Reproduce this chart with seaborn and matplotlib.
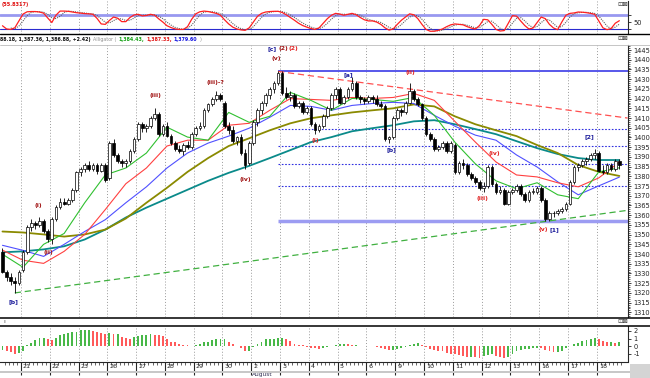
import numpy as np
import seaborn as sns
import matplotlib
matplotlib.use("Agg")
from matplotlib import pyplot as plt
from matplotlib.ticker import MultipleLocator, FixedLocator

# hourly bars, 7 per session, 5 bars of the previous session shown on the left
day_labels = ["21", "22", "23", "26", "27", "28", "29", "30", "2", "3", "4",
              "5", "6", "9", "10", "11", "12", "13", "16", "17", "18"]
bars_per_day = 7
bars_before = 5

opens = [1341, 1331, 1328, 1326, 1325, 1332, 1341, 1354, 1356, 1355, 1357, 1352, 1348, 1358, 1364, 1367, 1366, 1368, 1373, 1382,
         1384, 1386, 1384, 1386, 1383, 1386, 1379, 1397, 1391, 1388, 1387, 1388, 1393, 1399, 1407, 1405, 1406, 1410, 1412, 1402,
         1406, 1401, 1397, 1394, 1393, 1396, 1395, 1402, 1405, 1406, 1414, 1417, 1420, 1422, 1418, 1406, 1404, 1398, 1400, 1392,
         1387, 1397, 1408, 1414, 1418, 1422, 1425, 1428, 1433, 1423, 1421, 1422, 1416, 1418, 1413, 1415, 1407, 1404, 1406, 1411,
         1415, 1422, 1425, 1418, 1421, 1425, 1428, 1421, 1420, 1419, 1421, 1420, 1417, 1416, 1399, 1400, 1410, 1414, 1413, 1418,
         1424, 1420, 1417, 1410, 1402, 1399, 1394, 1395, 1397, 1393, 1396, 1382, 1387, 1386, 1381, 1379, 1377, 1374, 1375, 1385,
         1376, 1372, 1373, 1366, 1372, 1373, 1375, 1371, 1368, 1372, 1372, 1374, 1368, 1358, 1361, 1361, 1362, 1363, 1366, 1377,
         1385, 1386, 1388, 1389, 1391, 1392, 1383, 1382, 1386, 1384, 1388]
highs = [1343, 1332, 1330, 1328, 1332, 1342, 1355, 1358, 1357, 1359, 1358, 1353, 1359, 1365, 1369, 1369, 1369, 1374, 1383, 1385,
         1387, 1388, 1387, 1387, 1387, 1387, 1398, 1399, 1392, 1389, 1389, 1394, 1400, 1408, 1408, 1407, 1411, 1415, 1413, 1407,
         1408, 1402, 1398, 1396, 1397, 1398, 1403, 1406, 1408, 1415, 1418, 1421, 1424, 1423, 1419, 1408, 1406, 1401, 1402, 1394,
         1398, 1409, 1415, 1419, 1423, 1426, 1429, 1434, 1434, 1426, 1424, 1423, 1419, 1419, 1416, 1416, 1408, 1407, 1412, 1416,
         1423, 1426, 1426, 1422, 1426, 1431, 1429, 1422, 1421, 1422, 1422, 1422, 1419, 1417, 1401, 1411, 1415, 1415, 1419, 1428,
         1425, 1421, 1418, 1411, 1403, 1400, 1396, 1398, 1398, 1398, 1397, 1388, 1389, 1387, 1382, 1380, 1378, 1377, 1386, 1386,
         1377, 1375, 1374, 1373, 1374, 1376, 1376, 1372, 1373, 1374, 1375, 1375, 1369, 1362, 1362, 1363, 1364, 1367, 1378, 1386,
         1387, 1389, 1390, 1392, 1394, 1393, 1386, 1387, 1387, 1389, 1389]
lows = [1330, 1326, 1324, 1320, 1324, 1331, 1340, 1352, 1353, 1354, 1351, 1346, 1345, 1357, 1363, 1365, 1365, 1367, 1372, 1380,
        1382, 1383, 1383, 1381, 1382, 1377, 1378, 1390, 1387, 1385, 1385, 1387, 1392, 1398, 1403, 1403, 1405, 1409, 1401, 1401,
        1400, 1396, 1393, 1392, 1391, 1394, 1394, 1401, 1404, 1405, 1413, 1416, 1419, 1419, 1405, 1402, 1397, 1396, 1391, 1384,
        1386, 1396, 1406, 1412, 1416, 1420, 1423, 1427, 1422, 1420, 1419, 1415, 1415, 1412, 1412, 1406, 1402, 1403, 1405, 1410,
        1414, 1420, 1417, 1417, 1420, 1424, 1420, 1418, 1417, 1418, 1418, 1416, 1415, 1398, 1397, 1399, 1409, 1411, 1412, 1417,
        1419, 1416, 1409, 1401, 1398, 1393, 1393, 1394, 1392, 1392, 1381, 1381, 1384, 1380, 1378, 1376, 1373, 1372, 1374, 1375,
        1371, 1371, 1365, 1365, 1371, 1372, 1370, 1367, 1367, 1371, 1371, 1367, 1357, 1357, 1359, 1360, 1361, 1362, 1365, 1376,
        1383, 1385, 1386, 1388, 1389, 1382, 1381, 1381, 1383, 1383, 1384]
closes = [1331, 1328, 1326, 1325, 1331, 1341, 1354, 1356, 1355, 1357, 1352, 1348, 1358, 1364, 1367, 1366, 1368, 1373, 1382, 1384,
          1386, 1384, 1386, 1383, 1386, 1378, 1397, 1391, 1388, 1387, 1388, 1393, 1399, 1407, 1405, 1406, 1410, 1412, 1402, 1406,
          1401, 1397, 1394, 1393, 1396, 1395, 1402, 1405, 1406, 1414, 1417, 1420, 1422, 1420, 1406, 1404, 1398, 1400, 1392, 1386,
          1397, 1408, 1414, 1418, 1422, 1425, 1428, 1433, 1423, 1421, 1422, 1416, 1418, 1413, 1415, 1407, 1404, 1406, 1411, 1415,
          1422, 1425, 1418, 1421, 1425, 1428, 1421, 1420, 1419, 1421, 1420, 1417, 1416, 1399, 1400, 1410, 1414, 1413, 1418, 1424,
          1420, 1417, 1410, 1402, 1399, 1394, 1395, 1397, 1393, 1397, 1382, 1387, 1386, 1381, 1379, 1377, 1374, 1375, 1385, 1376,
          1372, 1373, 1366, 1372, 1373, 1375, 1371, 1368, 1372, 1372, 1374, 1368, 1358, 1361, 1361, 1362, 1363, 1366, 1377, 1385,
          1386, 1388, 1389, 1391, 1392, 1383, 1382, 1386, 1384, 1388, 1386]

# moving averages read every 5 bars
ma_bar = list(range(0, 151, 5))
ma_teal = [1340.9, 1341.4, 1342.4, 1344.0, 1347.5, 1352.6, 1358.8, 1363.9, 1368.5, 1373.1, 1377.7, 1381.8, 1385.4, 1389.4,
           1393.5, 1397.6, 1400.2, 1403.2, 1404.8, 1406.3, 1408.3, 1408.9, 1406.8, 1404.3, 1401.7, 1398.1, 1394.5, 1391.5,
           1389.4, 1388.4, 1388.4]
ma_olive = [1351.6, 1351.1, 1350.1, 1349.0, 1350.1, 1352.6, 1358.3, 1366.4, 1374.1, 1382.3, 1389.4, 1395.6, 1399.6, 1403.7,
            1407.3, 1409.9, 1411.4, 1412.9, 1414.0, 1415.0, 1417.0, 1416.0, 1410.9, 1406.8, 1403.7, 1400.7, 1396.1, 1392.0,
            1385.8, 1382.3, 1380.2]
jaw = [1344.5, 1341.9, 1338.8, 1345.0, 1351.6, 1357.7, 1366.4, 1374.6, 1384.3, 1392.0, 1397.1, 1400.7, 1404.8, 1410.4,
       1416.5, 1416.0, 1414.0, 1416.5, 1417.5, 1418.1, 1417.5, 1411.4, 1405.8, 1401.2, 1398.6, 1391.0, 1384.8, 1377.2,
       1370.5, 1375.1, 1379.6]
teeth = [1342.0, 1336.8, 1335.2, 1341.4, 1350.1, 1362.9, 1376.2, 1384.3, 1395.6, 1398.6, 1398.6, 1406.3, 1407.3, 1414.0,
         1420.0, 1419.6, 1419.1, 1420.6, 1420.1, 1420.6, 1422.7, 1419.1, 1408.3, 1397.6, 1387.4, 1380.7, 1379.7, 1376.7,
         1374.6, 1379.2, 1387.3]
lips = [1339.9, 1333.2, 1345.0, 1350.6, 1366.4, 1380.7, 1384.3, 1392.0, 1405.3, 1400.2, 1398.6, 1412.9, 1407.8, 1410.9,
        1423.2, 1419.1, 1414.0, 1420.1, 1419.6, 1418.6, 1420.6, 1411.4, 1397.6, 1386.4, 1377.7, 1373.6, 1376.7, 1370.5,
        1368.5, 1382.3, 1384.4]

# oscillator (top panel) and histogram (bottom panel)
osc = [34, 20, 18, 25, 55, 85, 95, 96, 96, 94, 89, 68, 48, 80, 98, 98, 97, 94, 91, 89, 87, 86, 84, 66, 42, 40, 57, 72, 67, 52,
       52, 70, 81, 84, 77, 79, 84, 80, 64, 50, 34, 26, 20, 18, 18, 30, 62, 86, 95, 98, 96, 92, 88, 80,
       60, 42, 28, 20, 16, 14, 25, 50, 75, 88, 94, 96, 97, 97, 92, 82, 70, 58, 45, 35, 28, 22, 18, 25, 45, 65,
       80, 88, 85, 80, 84, 88, 82, 70, 60, 55, 55, 50, 40, 25, 15, 20, 40, 58, 72, 86, 82, 65, 40, 18,
       10, 10, 14, 20, 30, 38, 42, 40, 38, 30, 24, 20, 35, 62, 60, 40, 18, 11, 13, 45, 78, 76, 55, 35, 20, 24,
       48, 72, 65, 40, 24, 17, 50, 80, 88, 90, 94, 93, 91, 88, 84, 55, 25, 17, 22, 45, 56]
osc_value = "(55.8317)"
hist = [-0.5, -0.6, -0.8, -1.0, -0.9, -0.6, 0.1, 0.4, 0.8, 1.1, 1.1, 0.9, 0.8, 1.1, 1.5, 1.6, 1.7, 1.8, 1.9, 2.1, 2.1, 2.1,
        2.0, 1.8, 1.7, 1.6, 1.7, 1.6, 1.6, 1.2, 1.1, 1.0, 1.2, 1.3, 1.4, 1.5, 1.6, 1.5, 1.4, 1.3, 0.9, 0.6, 0.5, 0.3, 0.2,
        0.1, 0.0, 0.1, 0.3, 0.5, 0.6, 0.8, 0.9,
        1.0, 1.0, 0.6, 0.3, 0.0, -0.3, -0.6, -0.6, -0.1, 0.3, 0.6, 0.9, 1.0, 1.0, 1.1, 1.1, 1.0, 0.7, 0.3, 0.2, 0.1, -0.1,
        -0.2, -0.3, -0.4, -0.3, -0.1, 0.0, 0.1, 0.3, 0.3, 0.25, 0.2, 0.2, 0.05, 0.0, -0.05, -0.05, -0.15, -0.3, -0.4, -0.5,
        -0.5, -0.35, -0.2, -0.1, 0.1, 0.25, 0.35, 0.2, -0.1, -0.35, -0.55, -0.65,
        -0.7, -0.85, -1.0, -1.1, -1.2, -1.3, -1.4, -1.4, -1.45, -1.5, -1.25, -1.2, -1.1, -1.3, -1.45, -1.5, -1.4, -1.05,
        -0.7, -0.5, -0.4, -0.4, -0.25, -0.25, -0.3, -0.45, -0.65, -0.8, -0.8, -0.65, -0.3, 0.05, 0.3, 0.4, 0.65, 0.85,
        1.0, 1.1, 1.0, 0.7, 0.5, 0.5, 0.4, 0.5]

# drawn studies: swing high/low, fib retracements, trend lines
swing_bar = 67
swing_high = 1434
swing_low = 1357
fib_levels = [1375.2, 1386.4, 1395.5, 1404.6]
red_trend = [(67, 1434), (152, 1410)]
green_trend = [(3, 1320), (152, 1362.5)]

# wave count labels: text, bar, price, colour
waves = [("[b]", 2.6, 1315.5, "#1a1a9a"), ("(i)", 8.6, 1365, "#a01010"), ("(ii)", 11.1, 1341, "#a01010"),
         ("(iii)", 37.1, 1421.6, "#a01010"), ("(iii)-?", 51.9, 1428.3, "#a01010"), ("(iv)", 59, 1378.2, "#a01010"),
         ("(v)", 66.5, 1440.5, "#a01010"), ("(i)", 76, 1398.6, "#e02020"), ("[a]", 84.2, 1432.4, "#1a1a9a"),
         ("(ii)", 99.3, 1433.5, "#e02020"), ("[b]", 94.7, 1393.5, "#1a1a9a"), ("(iii)", 116.6, 1368.5, "#e02020"),
         ("(iv)", 119.5, 1391.5, "#e02020"), ("(v)", 131.6, 1352.6, "#e02020"), ("[1]", 134.3, 1352.6, "#1a1a9a"),
         ("[2]", 142.8, 1400.2, "#1a1a9a")]

# header of the price panel: last bar values, then Alligator lips / teeth / jaw
header_price = "88.18, 1,387.36, 1,386.88, +2.42)"
alligator_vals = ["1,384.43,", "1,387.33,", "1,379.60"]

W, H = 650, 378


def box(x0, y0, x1, y1):
    return [x0 / W, 1 - y1 / H, (x1 - x0) / W, (y1 - y0) / H]


sns.set_style("white")
plt.rcParams["font.family"] = ["DejaVu Sans"]

n = len(closes)
bar = np.arange(n)
o, hi, lo, c = map(np.array, (opens, highs, lows, closes))
day_start = bars_before - 0.5 + bars_per_day * np.arange(len(day_labels))
xlim = (-0.6, 152.1)

fig = plt.figure(figsize=(6.5, 3.78), dpi=100)
ax_osc = fig.add_axes(box(0, 1, 628, 34))
ax_main = fig.add_axes(box(0, 45, 628, 317))
ax_hist = fig.add_axes(box(0, 326, 628, 361))
ax_date = fig.add_axes(box(0, 362, 628, 371))

for ax in (ax_osc, ax_main, ax_hist):
    ax.set_xlim(*xlim)
    ax.set_xticks(day_start)
    ax.grid(axis="x", color="#9a9a9a", ls=(0, (1, 2)), lw=0.7)
    ax.tick_params(axis="x", length=0, labelbottom=False)
    ax.yaxis.tick_right()
    ax.tick_params(axis="y", which="both", direction="out", labelsize=4.8, pad=1.5, colors="#222222")
    ax.tick_params(axis="y", which="major", length=2.5, width=0.6)
    ax.tick_params(axis="y", which="minor", length=1.2, width=0.5)
    for s in ("top", "bottom", "left"):
        ax.spines[s].set_visible(False)
    ax.spines["right"].set_linewidth(0.8)

# --- top oscillator
ax_osc.set_ylim(-2, 142)
ax_osc.axhline(80, color="#9898f0", lw=2.0)
ax_osc.axhline(20, color="#2a2ad0", lw=0.8)
sig = np.convolve(osc, np.ones(3) / 3, mode="full")[:n]
sns.lineplot(x=bar[2:], y=sig[2:], ax=ax_osc, color="#606060", lw=0.8, ls=(0, (1, 1)))
sns.lineplot(x=bar, y=osc, ax=ax_osc, color="#ff2020", lw=0.9)
ax_osc.yaxis.set_major_locator(FixedLocator([20, 50, 80]))
ax_osc.set_yticklabels(["", "50", ""])
ax_osc.set_ylabel("")
ax_osc.text(0.003, 0.97, osc_value, transform=ax_osc.transAxes, color="#e01010", fontsize=3.6,
            fontweight="bold", va="top", ha="left")

# --- main price panel
ax_main.set_ylim(1307.6, 1447.6)
ax_main.yaxis.set_major_locator(MultipleLocator(5))
ax_main.yaxis.set_minor_locator(MultipleLocator(1))
ax_main.set_yticklabels([f"{v:.0f}" for v in ax_main.get_yticks()])
ax_main.set_ylim(1307.6, 1447.6)

ax_main.hlines([swing_high], swing_bar, xlim[1], color="#4a4ae8", lw=1.3, zorder=2)
ax_main.hlines([swing_low], swing_bar, xlim[1], color="#9c9cf2", lw=2.5, zorder=2)
ax_main.hlines(fib_levels, swing_bar, xlim[1], color="#3030e0", lw=0.8, ls=(0, (1.5, 1.5)), zorder=2)
ax_main.plot(*zip(*red_trend), color="#ff5050", lw=0.9, ls=(0, (5, 3)), zorder=2)
ax_main.plot(*zip(*green_trend), color="#40b040", lw=0.9, ls=(0, (5, 3)), zorder=2)

for vals, col, lw in ((ma_teal, "#0a8a8a", 1.3), (ma_olive, "#8a8a00", 1.3), (jaw, "#5050ff", 0.8),
                      (teeth, "#ff4040", 0.8), (lips, "#30c030", 0.8)):
    sns.lineplot(x=ma_bar, y=vals, ax=ax_main, color=col, lw=lw, zorder=3)

up = c >= o
ax_main.vlines(bar, lo, hi, color="black", lw=0.6, zorder=4)
ax_main.bar(bar, np.maximum(np.abs(c - o), 0.35), bottom=np.minimum(o, c), width=0.66,
            color=np.where(up, "white", "black"), edgecolor="black", linewidth=0.5, zorder=5)

for txt, b, p, col in waves:
    ax_main.text(b, p, txt, color=col, fontsize=4.4, fontweight="bold", ha="center", va="center", zorder=6)
ax_main.text(65.6, 1445.6, "[c]", color="#1a1a9a", fontsize=4.4, fontweight="bold", ha="center", va="center")
ax_main.text(68.2, 1445.6, "(2)", color="#a01010", fontsize=4.4, fontweight="bold", ha="center", va="center")
ax_main.text(70.8, 1445.6, "(2)", color="#e02020", fontsize=4.4, fontweight="bold", ha="center", va="center")
ax_main.set_ylabel("")

# --- bottom histogram
ax_hist.set_ylim(-1.96, 2.65)
hv = np.array(hist)
rising = np.diff(hv, prepend=hv[0]) >= 0
ax_hist.bar(bar, hv, width=0.45, color=np.where(rising, "#48b848", "#ff5a5a"), linewidth=0)
ax_hist.yaxis.set_major_locator(FixedLocator([-1, 0, 1, 2]))
ax_hist.set_yticklabels(["-1", "0", "1", "2"])

# --- date scale
ax_date.set_xlim(*xlim)
ax_date.set_ylim(0, 1)
for s in ("bottom", "left", "right"):
    ax_date.spines[s].set_visible(False)
ax_date.spines["top"].set_linewidth(0.8)
ax_date.set_yticks([])
ax_date.set_xticks(day_start)
ax_date.set_xticks(bar + 0.5, minor=True)
ax_date.tick_params(axis="x", which="major", direction="in", top=True, bottom=False, length=9, width=0.8,
                    labelbottom=False)
ax_date.tick_params(axis="x", which="minor", direction="in", top=True, bottom=False, length=2, width=0.5)
for d, lab in zip(day_start, day_labels):
    ax_date.text(d + 0.5, 0.45, lab, fontsize=4.6, va="center", ha="left", color="#222222")
ax_date.text(day_start[8] + 0.2, -0.35, "August", fontsize=4.2, va="center", ha="left", color="#333355")

# --- header strip and frame pieces
fig.add_artist(plt.Line2D([0, 1], [1 - 34 / H] * 2, color="black", lw=1.0))
fig.add_artist(plt.Line2D([0, 1], [1 - 44.5 / H] * 2, color="#bbbbbb", lw=0.6))
fig.add_artist(plt.Line2D([0, 1], [1 - 317.5 / H] * 2, color="black", lw=1.1))
fig.add_artist(plt.Line2D([0, 1], [1 - 325.5 / H] * 2, color="black", lw=1.1))
fig.text(3 / W, 1 - 321.5 / H, "ı", fontsize=4.5, va="center", color="#444444")
fig.add_artist(plt.Rectangle((0, 1 - 373 / H), 1, 2.5 / H, color="#c8c8c8", lw=0))
fig.add_artist(plt.Rectangle((630 / W, 0), 20 / W, 14 / H, color="#d4d4d4", lw=0))
for ypix in (4, 38.5, 321.5):
    fig.text(617 / W, 1 - ypix / H, "⊡⊠", fontsize=4.6, va="center", color="#333333")

# header pieces chained one after another so they never overlap
pieces = [("Alligator (", "#909090", "normal"), (alligator_vals[0], "#10a010", "bold"),
          (alligator_vals[1], "#e01010", "bold"), (alligator_vals[2], "#1010e0", "bold"), (")", "#909090", "normal")]
last = fig.text(0.5 / W, 1 - 39.3 / H, header_price, fontsize=3.4, fontweight="bold",
                va="center", ha="left", color="#111111")
for txt, col, wt in pieces:
    last = fig.add_artist(plt.Annotation(txt, xy=(1, 0.5), xycoords=last, xytext=(1.4, 0),
                                         textcoords="offset points", fontsize=3.4, fontweight=wt,
                                         va="center", ha="left", color=col))

fig.savefig("out.png", dpi=100)
